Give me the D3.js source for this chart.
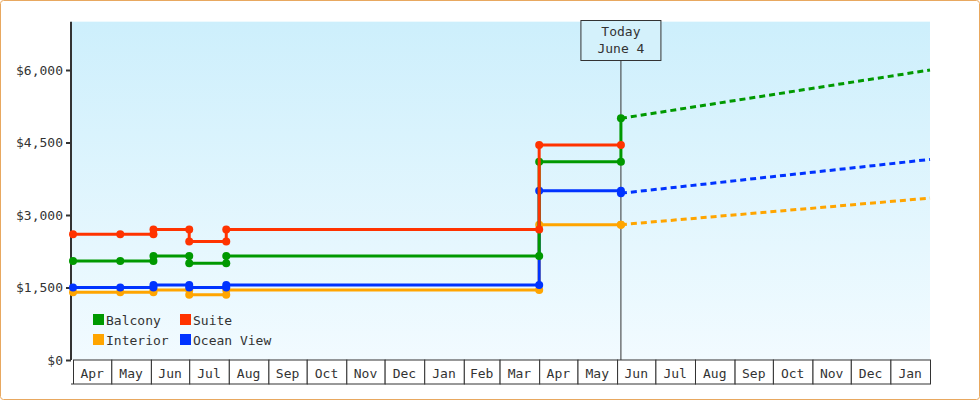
<!DOCTYPE html>
<html><head><meta charset="utf-8">
<script src="https://cdn.jsdelivr.net/npm/d3@7"></script>
<style>body{margin:0;background:#fff}svg{display:block}text{font-family:"DejaVu Sans Mono",monospace;font-size:13px;fill:#333}</style>
</head><body><svg id="c" width="980" height="400"></svg>
<script>
const months = ["Apr","May","Jun","Jul","Aug","Sep","Oct","Nov","Dec","Jan","Feb","Mar","Apr","May","Jun","Jul","Aug","Sep","Oct","Nov","Dec","Jan"];
const yTicks = [0,1500,3000,4500,6000];
const names = ["Interior","Ocean View","Balcony","Suite"];
const colors = {"Balcony":"#009900","Suite":"#ff3300","Interior":"#ffa500","Ocean View":"#0033ff"};
const dates = ["2012-04-01","2012-05-08","2012-06-03","2012-06-03","2012-07-01","2012-07-01","2012-07-30","2012-07-30","2013-04-01","2013-04-01","2013-06-04"];
const suite    = [2600,2600,2600,2700,2700,2450,2450,2700,2700,4450,4450];
const balcony  = [2050,2050,2050,2150,2150,2000,2000,2150,2150,4100,4100];
const ocean    = [1500,1500,1500,1550,1550,1500,1500,1550,1550,3500,3500];
const interior = [1400,1400,1400,1450,1450,1350,1350,1450,1450,2800,2800];
const today = "2013-06-04";
const todayValues = {"Balcony":5000,"Ocean View":3450,"Interior":2800};
const forecastEnd = "2014-02-01";
const forecastValues = {"Balcony":6000,"Ocean View":4150,"Interior":3350};
const series = {"Suite":suite,"Balcony":balcony,"Ocean View":ocean,"Interior":interior};

const P = d3.timeParse("%Y-%m-%d");
const svg = d3.select("#c");
svg.append("rect").attr("x",0.5).attr("y",0.5).attr("width",979).attr("height",399).attr("rx",3).attr("fill","#fff").attr("stroke","#e8a860");
const L=71,R=930,T=20,B=360;
const x = d3.scaleTime().domain([P("2012-04-01"),P("2014-02-01")]).range([L+2,R]);
const y = d3.scaleLinear().domain([0,7000]).range([B,B-7000*290/6000]);
const defs = svg.append("defs");
const g = defs.append("linearGradient").attr("id","bg").attr("x1",0).attr("y1",0).attr("x2",0).attr("y2",1);
g.append("stop").attr("offset",0).attr("stop-color","#cdeffc");
g.append("stop").attr("offset",1).attr("stop-color","#f2fbff");
svg.append("rect").attr("x",L).attr("y",y(7000)).attr("width",R-L).attr("height",B-y(7000)).attr("fill","url(#bg)");

// today line
const tx = x(P(today));
svg.append("line").attr("x1",tx).attr("x2",tx).attr("y1",60).attr("y2",B).attr("stroke","#333");
svg.append("rect").attr("x",tx-40).attr("y",20.5).attr("width",80).attr("height",40).attr("fill","#d4f1fb").attr("stroke","#333");
svg.append("text").attr("x",tx).attr("y",36).attr("text-anchor","middle").text("Today");
svg.append("text").attr("x",tx).attr("y",53).attr("text-anchor","middle").text("June 4");

// y axis
const ya = svg.append("g").attr("transform",`translate(${L},0)`).call(d3.axisLeft(y).tickValues(yTicks).tickSize(5).tickFormat(d=>"$"+d3.format(",")(d)));
ya.select(".domain").attr("stroke","#333").attr("stroke-width",2).attr("d",`M0,${y(7000)}V${B}`);
ya.selectAll(".tick line").attr("stroke","#333").attr("stroke-width",2);
ya.selectAll("text").style("font-family","DejaVu Sans Mono").style("font-size","13px").attr("fill","#333");

// x axis month cells
const mstart = d3.timeMonths(P("2012-04-01"),P("2014-02-01"));
const xa = svg.append("g");
mstart.forEach((d,i)=>{
  const x0=x(d), x1=x(d3.timeMonth.offset(d,1));
  xa.append("rect").attr("x",x0+0.5).attr("y",B).attr("width",x1-x0).attr("height",24).attr("fill","#fff").attr("stroke","#333");
  xa.append("text").attr("x",(x0+x1)/2).attr("y",B+18).attr("text-anchor","middle").text(months[i]);
});
svg.append("line").attr("x1",L).attr("x2",L+2).attr("y1",B+24).attr("y2",B+24).attr("stroke","#333");

// series
const line = d3.line().x(d=>x(d[0])).y(d=>y(d[1]));
names.forEach(n=>{
  const pts = dates.map((d,i)=>[P(d),series[n][i]]);
  if(todayValues[n]!==undefined) pts.push([P(today),todayValues[n]]);
  svg.append("path").attr("d",line(pts)).attr("fill","none").attr("stroke",colors[n]).attr("stroke-width",3);
  if(forecastValues[n]!==undefined){
    svg.append("path").attr("d",line([[P(today),todayValues[n]],[P(forecastEnd),forecastValues[n]]])).attr("fill","none").attr("stroke",colors[n]).attr("stroke-width",3).attr("stroke-dasharray","6,4");
  }
  svg.selectAll(null).data(pts).enter().append("circle").attr("cx",d=>x(d[0])).attr("cy",d=>y(d[1])).attr("r",4).attr("fill",colors[n]);
});

// legend
const leg = [["Balcony",95,320],["Suite",182,320],["Interior",95,340],["Ocean View",182,340]];
leg.forEach(([n,lx,ly])=>{
  svg.append("rect").attr("x",lx-2).attr("y",ly-6).attr("width",11).attr("height",11).attr("fill",colors[n]);
  svg.append("text").attr("x",lx+11).attr("y",ly+5).text(n);
});
</script></body></html>
